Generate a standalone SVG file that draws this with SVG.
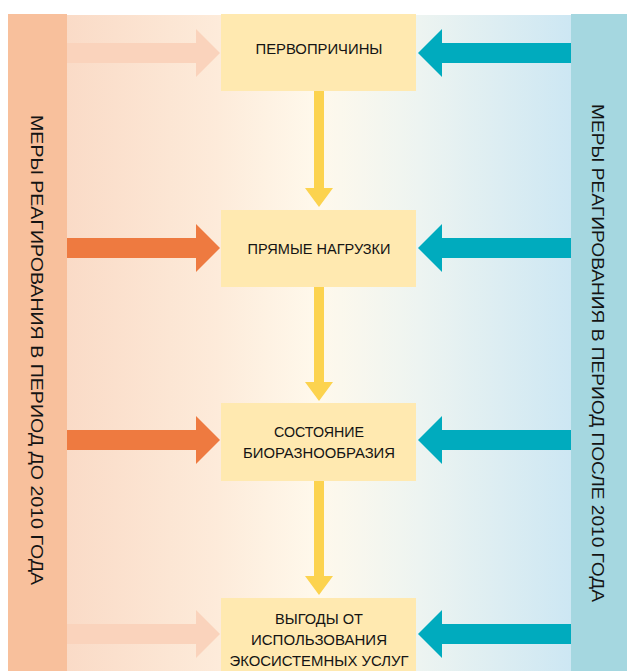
<svg xmlns="http://www.w3.org/2000/svg" width="627" height="671" viewBox="0 0 627 671">
<defs>
<linearGradient id="bg" x1="0" y1="0" x2="1" y2="0">
<stop offset="0" stop-color="#FADBC7"/>
<stop offset="0.3" stop-color="#FDEBDA"/>
<stop offset="0.5" stop-color="#FFF9EC"/>
<stop offset="0.7" stop-color="#EDF4F1"/>
<stop offset="1" stop-color="#CDE7F3"/>
</linearGradient>
<style>
.box{fill:#FFE9B0}
.t{font-family:"Liberation Sans",Arial,sans-serif;font-size:15.5px;fill:#141414;text-anchor:middle}
.v{font-family:"Liberation Sans",Arial,sans-serif;font-size:17px;fill:#141414;text-anchor:middle}
.faded{fill:#FAD3BC}
.orange{fill:#EE7A40}
.teal{fill:#00ABBE}
.yellow{fill:#FCD34F}
</style>
</defs>
<rect x="67" y="15" width="504" height="656" fill="url(#bg)"/>
<g id="left-bar">
<rect x="8" y="14" width="59" height="657" fill="#F8C09C"/>
<text class="v" transform="translate(31,350) rotate(90)" textLength="470" lengthAdjust="spacingAndGlyphs">МЕРЫ РЕАГИРОВАНИЯ В ПЕРИОД ДО 2010 ГОДА</text>
</g>
<g id="right-bar">
<rect x="571" y="14" width="56" height="657" fill="#A5D7E0"/>
<text class="v" transform="translate(592,353) rotate(90)" textLength="498" lengthAdjust="spacingAndGlyphs">МЕРЫ РЕАГИРОВАНИЯ В ПЕРИОД ПОСЛЕ 2010 ГОДА</text>
</g>
<g id="connectors">
<polygon class="faded" points="67,43 196,43 196,29 220,53 196,77 196,63 67,63"/>
<polygon class="orange" points="67,238 196,238 196,224 220,248 196,272 196,258 67,258"/>
<polygon class="orange" points="67,430 196,430 196,416 220,440 196,464 196,450 67,450"/>
<polygon class="faded" points="67,624 196,624 196,610 220,634 196,658 196,644 67,644"/>
<polygon class="teal" points="571,43 442,43 442,29 418,53 442,77 442,63 571,63"/>
<polygon class="teal" points="571,238 442,238 442,224 418,248 442,272 442,258 571,258"/>
<polygon class="teal" points="571,430 442,430 442,416 418,440 442,464 442,450 571,450"/>
<polygon class="teal" points="571,624 442,624 442,610 418,634 442,658 442,644 571,644"/>
<polygon class="yellow" points="314,91 324,91 324,188 333,188 319,207 305,188 314,188"/>
<polygon class="yellow" points="314,287 324,287 324,382 333,382 319,401 305,382 314,382"/>
<polygon class="yellow" points="314,481 324,481 324,576 333,576 319,595 305,576 314,576"/>
</g>
<g id="node-1">
<rect class="box" x="221" y="14" width="195" height="77"/>
<text class="t" x="319" y="54" textLength="127" lengthAdjust="spacingAndGlyphs">ПЕРВОПРИЧИНЫ</text>
</g>
<g id="node-2">
<rect class="box" x="221" y="210" width="195" height="77"/>
<text class="t" x="319" y="254" textLength="143" lengthAdjust="spacingAndGlyphs">ПРЯМЫЕ НАГРУЗКИ</text>
</g>
<g id="node-3">
<rect class="box" x="221" y="403" width="195" height="78"/>
<text class="t" x="319" y="437" textLength="90" lengthAdjust="spacingAndGlyphs">СОСТОЯНИЕ</text>
<text class="t" x="319" y="458" textLength="152" lengthAdjust="spacingAndGlyphs">БИОРАЗНООБРАЗИЯ</text>
</g>
<g id="node-4">
<rect class="box" x="221" y="598" width="195" height="73"/>
<text class="t" x="319" y="624" textLength="88" lengthAdjust="spacingAndGlyphs">ВЫГОДЫ ОТ</text>
<text class="t" x="319" y="645" textLength="136" lengthAdjust="spacingAndGlyphs">ИСПОЛЬЗОВАНИЯ</text>
<text class="t" x="319" y="666" textLength="179" lengthAdjust="spacingAndGlyphs">ЭКОСИСТЕМНЫХ УСЛУГ</text>
</g>
</svg>
